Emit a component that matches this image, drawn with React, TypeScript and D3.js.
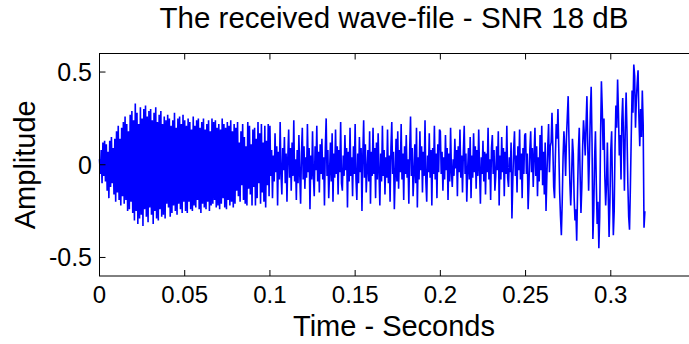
import React from "react";
import * as d3 from "d3";

// sampling step of the recorded signal (seconds)
const SAMPLE_STEP = 0.0005;

// signal amplitudes in hundredths, in consecutive chunks
// 0 – 0.1 s
const chunkA = [
  3, -5, 8, -10, 12, -6, 13, -9, 11, -14, 7, -18, 13, -12, 15, -10, 9, -16, 14, -20,
  18, -15, 21, -19, 14, -22, 20, -17, 23, -21, 26, -19, 22, -25, 18, -24, 27, -20, 29, -26,
  24, -30, 33, -25, 28, -32, 22, -29, 31, -27, 25, -33, 30, -24, 32, -28, 26, -31, 29, -23,
  30, -27, 24, -32, 28, -25, 31, -29, 23, -30, 27, -24, 29, -28, 22, -27, 26, -29, 24, -21,
  27, -23, 25, -28, 21, -26, 24, -22, 28, -25, 20, -27, 25, -21, 26, -24, 22, -26, 27, -20,
  24, -25, 21, -26, 25, -20, 23, -24, 19, -25, 26, -22, 21, -23, 24, -19, 25, -24, 20, -26,
  23, -21, 25, -23, 19, -24, 22, -20, 24, -25, 18, -22, 25, -21, 23, -19, 24, -23, 20, -22,
  22, -24, 19, -21, 25, -18, 22, -23, 20, -24, 23, -19, 21, -22, 24, -20, 18, -23, 22, -21,
  20, -14, 23, -17, 12, -20, 18, -11, 22, -19, 15, -21, 10, -22, 23, -13, 21, -16, 11, -22,
  19, -12, 20, -22, 14, -18, 23, -10, 17, -21, 22, -15, 12, -20, 21, -23, 13, -11, 22, -17,
];
// 0.1 – 0.2 s
const chunkB = [
  21, -6, 8, -18, 5, -9, 17, -4, 10, -22, 7, -8, 23, -5, -16,
  9, -3, 15, -10, 6, -20, 4, 19, -7, 9, -14, 12, -6, 24, -9, 3, -19,
  8, -10, 16, -5, -21, 6, 20, -8, 10, -13, 4, -7, 22, -4, 9, -24,
  5, -8, 18, -6, -17, 10, -3, 21, -9, 7, -15, 11, -5, 14, -8, 4, -22,
  9, 25, -6, 8, -18, -4, 12, -9, 17, -20, 6, -7, 19, -5, 10, -16,
  8, -4, 23, -10, -14, 5, -6, 16, -3, 9, -23, 7, -9, 20, -6, 4, -17,
  10, -5, 22, -8, -19, 6, -10, 15, -4, 9, -25, 5, 24, -7, 11, -15,
  -3, 8, -9, 18, -21, 7, -6, 20, -5, 9, -18, 12, -8, 17, -4, -22, 6,
  -9, 21, -6, 8, -16, 4, -7, 19, -10, 5, -20, 9, 23, -5, 7, -24,
  -6, 14, -9, 18, -13, 8, -4, 22, -8, 6, -19, 10, -5, 16, -7, 3, -21,
  8, 26, -6, 9, -17, -5, 11, -10, 20, -23, 4, -8, 18, -3, 10, -15,
  7, -6, 24, -9, -20, 5, -4, 17, -7, 8, -22, 9, -5, 21, -8, 6, -18,
  11, -4, 19,
];
// 0.2 – 0.25 s
const chunkC = [
  18, -5, 7, -14, 4, -8, 16, -3, 9, -19,
  6, -9, 20, -4, -12, 3, -6, 14, -2, 8, -17,
  10, -4, 19, -7, 5, -15, 7, 21, -5, 6, -20,
  -3, 9, -8, 15, -18, 5, -7, 17, -4, 10, -13,
  8, -6, 19, -3, -21, 4, -5, 13, -9, 7, -16,
  6, -4, 20, -8, 3, -19, 9, 16, -5, 8, -14,
  -6, 10, -3, 18, -22, 5, -8, 15, -4, 9, -17,
  7, -5, 21, -7, -12, 4, -4, 12, -29, -9, 8,
  18, -6, 5, -15, 10, -3, 19, -8, 6, -18, 9, -5, 16,
];
// 0.25 – 0.32 s
const chunkD = [
  17, -5, 6, -24, -10, 8, 18, -4, 9, -12,
  5, 20, -6, 10, -17, 4, -9, 16, -3, 21,
  -11, 7, -16, 12, -25, -6, 9, 22, -4, 10,
  12, 28, 10, -12, -18, 5, 22, 14, 30, 8,
  -15, -28, -38, -20, 4, 18, 9, -6, 15, 26,
  37, 12, -10, -22, -8, 14, 6, -18, -30, -24,
  -41, -15, 8, 20, -5, -26, -12, 10, 24, 16,
  5, 22, 37, 10, -14, 6, 28, 42, 12, -40,
  -25, 3, 18, -10, -32, -20, -45, -28, 15, 45,
  30, 8, 25, -6, -22, -10, 12, -15, -39, -20,
  8, 18, -12, -38, -25, 10, 32, 20, 46, 28,
  5, 16, -8, 24, 36, 12, -14, 20, 39, 18,
  -10, -28, -35, -12, 15, 40, 28, 54, 48, 20,
  35, 44, 51, 26, 10, 30, 15, 40, 22, -34,
  -25,
];

const xTicks = [0, 0.05, 0.1, 0.15, 0.2, 0.25, 0.3];
const xTickLabels = ["0", "0.05", "0.1", "0.15", "0.2", "0.25", "0.3"];
const yTicks = [-0.5, 0, 0.5];
const yTickLabels = ["-0.5", "0", "0.5"];

const title = "The received wave-file - SNR 18 dB";
const xLabel = "Time - Seconds";
const yLabel = "Amplitude";

const W = 689;
const H = 344;
const FONT = "Arial, 'Liberation Sans', Helvetica, sans-serif";

export default function App() {
  const x = d3.scaleLinear().domain([0, 0.35]).range([99.5, 696]);
  const y = d3.scaleLinear().domain([-0.6, 0.6]).range([276, 53.5]);

  const signal = [...chunkA, ...chunkB, ...chunkC, ...chunkD];
  const pts = signal.map((v, i) => ({ t: i * SAMPLE_STEP, v: v / 100 }));

  const line = d3
    .line<{ t: number; v: number }>()
    .x((d) => x(d.t))
    .y((d) => y(d.v));

  const [x0, x1] = x.range();
  const [yb, yt] = y.range();
  const tl = 6;

  return (
    <svg
      width={W}
      height={H}
      style={{ position: "absolute", left: 0, top: 0, background: "#fff" }}
    >
      <rect x={0} y={0} width={W} height={H} fill="#fff" />
      <path d={line(pts) || ""} fill="none" stroke="#0000ff" strokeWidth={1.6} />
      <rect x={x0} y={yt} width={x1 - x0} height={yb - yt} fill="none" stroke="#000" strokeWidth={1} />
      {xTicks.map((t, i) => (
        <g key={"xt" + i}>
          <line x1={x(t)} x2={x(t)} y1={yb} y2={yb - tl} stroke="#000" />
          <line x1={x(t)} x2={x(t)} y1={yt} y2={yt + tl} stroke="#000" />
          <text x={x(t)} y={303} textAnchor="middle" fontFamily={FONT} fontSize={24} fill="#000">
            {xTickLabels[i]}
          </text>
        </g>
      ))}
      {yTicks.map((t, i) => (
        <g key={"yt" + i}>
          <line x1={x0} x2={x0 + tl} y1={y(t)} y2={y(t)} stroke="#000" />
          <line x1={x1} x2={x1 - tl} y1={y(t)} y2={y(t)} stroke="#000" />
          <text x={92} y={y(t) + 9} textAnchor="end" fontFamily={FONT} fontSize={25} fill="#000">
            {yTickLabels[i]}
          </text>
        </g>
      ))}
      <text x={394} y={28} textAnchor="middle" fontFamily={FONT} fontSize={29.5} fill="#000">
        {title}
      </text>
      <text x={394} y={336} textAnchor="middle" fontFamily={FONT} fontSize={29} fill="#000">
        {xLabel}
      </text>
      <text
        transform={`translate(35, ${y(0)}) rotate(-90)`}
        textAnchor="middle"
        fontFamily={FONT}
        fontSize={29}
        fill="#000"
      >
        {yLabel}
      </text>
    </svg>
  );
}
